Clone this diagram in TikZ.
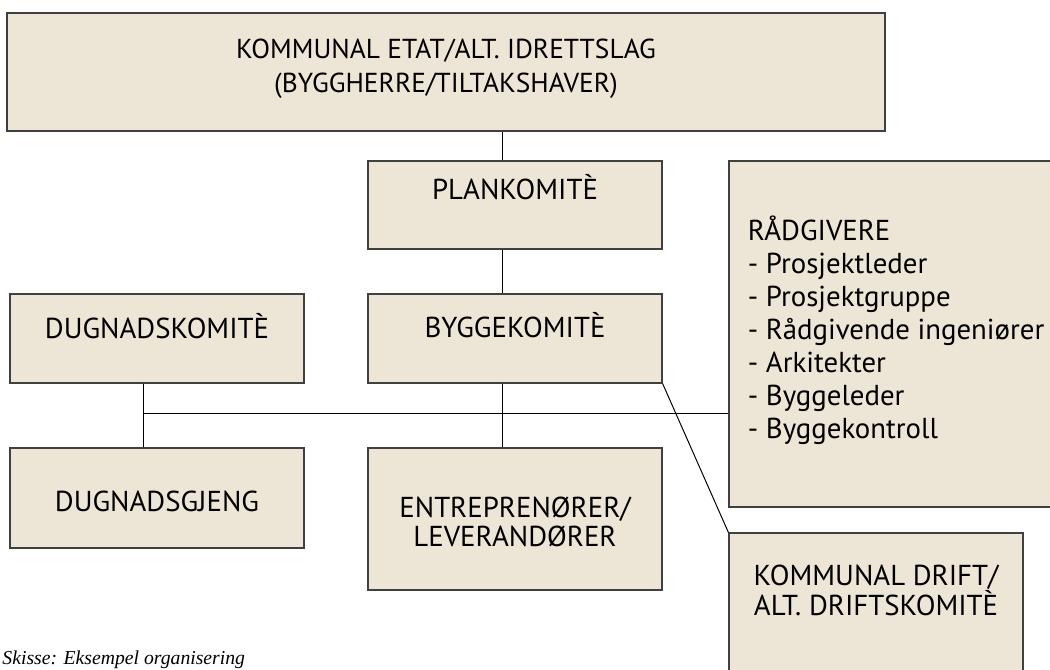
\documentclass[tikz,border=0pt]{standalone}
\usepackage{fontspec}
\setmainfont{PT Sans}
\newfontfamily\capfont{Liberation Serif}
\definecolor{boxfill}{RGB}{237,230,214}
\definecolor{boxline}{RGB}{64,64,64}

\begin{document}
\begin{tikzpicture}[line width=0.7pt, box/.style={rectangle, draw=boxline, fill=boxfill, line width=0.9pt, inner sep=0pt, minimum width=7.35cm}, lbl/.style={inner sep=0pt, align=center, font=\fontsize{20.5}{21}\selectfont}]
	\clip (0,0) rectangle (26.25,-16.75);
	
	\node (1) at (11.15,-1.8) [box, minimum width=21.95cm, minimum height=2.95cm, label={[lbl, anchor=center, yshift=-1.41cm, font=\fontsize{19.5}{24.5}\selectfont]north:KOMMUNAL ETAT/ALT. IDRETTSLAG\\(BYGGHERRE/TILTAKSHAVER)}]{};
	\node (2) at (12.875,-5.125) [box, minimum height=2.2cm, label={[lbl, anchor=center, yshift=-0.675cm]north:PLANKOMITÈ}]{};
	\node (3) at (12.875,-8.4625) [box, minimum height=2.225cm, label={[lbl, anchor=center, yshift=-0.8cm]north:BYGGEKOMITÈ}]{};
	\node (4) at (3.925,-8.4625) [box, minimum height=2.225cm, label={[lbl, anchor=center, yshift=-0.825cm]north:DUGNADSKOMITÈ}]{};
	\node (5) at (3.925,-12.45) [box, minimum height=2.5cm, label={[lbl, anchor=center, yshift=-1.35cm]north:DUGNADSGJENG}]{};
	\node (6) at (12.875,-12.975) [box, minimum height=3.55cm, label={[lbl, anchor=center, yshift=-1.86cm]north:ENTREPRENØRER/\\LEVERANDØRER}]{};
	\node (7) at (22.3875,-8.35) [box, minimum width=8.325cm, minimum height=8.65cm, label={[lbl, anchor=west, xshift=0.475cm, yshift=0.1cm, align=left, font=\fontsize{20.5}{23.5}\selectfont]west:RÅDGIVERE\\- Prosjektleder\\- Prosjektgruppe\\- Rådgivende ingeniører\\- Arkitekter\\- Byggeleder\\- Byggekontroll}]{};
	\node (8) at (21.9,-15.4125) [box, minimum height=4.175cm, label={[lbl, anchor=center, yshift=-1.45cm]north:KOMMUNAL DRIFT/\\ALT. DRIFTSKOMITÈ}]{};
	
	\node (9) at (0.05,-16.6) [anchor=base west, inner sep=0pt, font=\capfont\itshape\fontsize{14}{16}\selectfont] {Skisse: Eksempel organisering};
	
	\coordinate (s) at (12.55,0);
	\coordinate (d) at (3.575,0);
	\coordinate (b) at (0,-10.325);
	
	\draw (1.south -| s) -- (2.north -| s);
	\draw (2.south -| s) -- (3.north -| s);
	\draw (3.south -| s) -- (6.north -| s);
	\draw (4.south -| d) -- (5.north -| d);
	\draw (b -| d) -- (b -| 7.west);
	\draw (3.south east) -- (8.north west);
	
\end{tikzpicture}
\end{document}
